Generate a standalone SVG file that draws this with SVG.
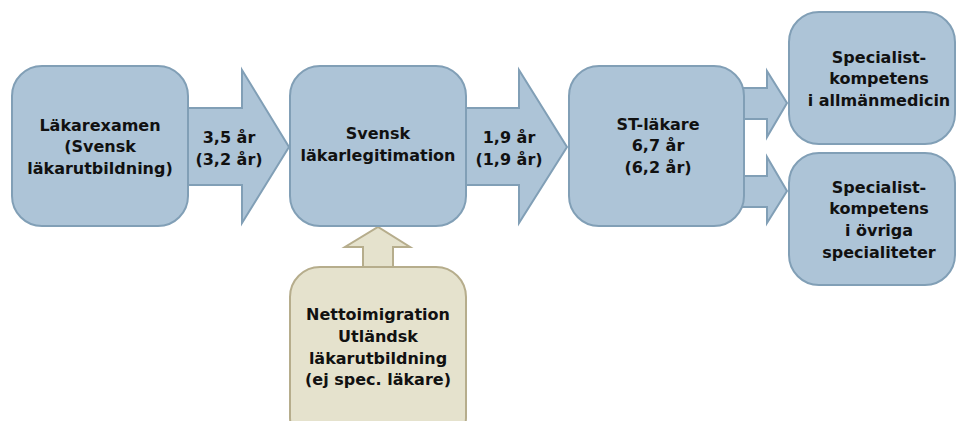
<svg xmlns="http://www.w3.org/2000/svg" width="957" height="421" viewBox="0 0 957 421">
<style>
.b{fill:#adc4d7;stroke:#819fb6;stroke-width:2}
.y{fill:#e5e2cd;stroke:#b6ad8c;stroke-width:2}
text{font-family:"DejaVu Sans","Liberation Sans",sans-serif;font-weight:bold;font-size:16px;fill:#111;text-anchor:middle}
</style>
<rect width="957" height="421" fill="#fff"/>
<g id="connectors">
<polygon class="b" points="180,108 242,108 242,70 289,147 242,223 242,185 180,185"/>
<polygon class="b" points="458,108 519,108 519,70 567,147 519,223 519,185 458,185"/>
<polygon class="b" points="736,88 767,88 767,71 787,103 767,137 767,119 736,119"/>
<polygon class="b" points="736,176 767,176 767,157 787,191 767,223 767,207 736,207"/>
<polygon class="y" points="363,275 363,247 345,247 378,227 410,247 393,247 393,275"/>
<text x="229" y="143">3,5 år</text>
<text x="229" y="165">(3,2 år)</text>
<text x="509" y="143">1,9 år</text>
<text x="509" y="165">(1,9 år)</text>
</g>
<g id="lakarexamen">
<rect class="b" x="12" y="66" width="176" height="160" rx="30"/>
<text x="100" y="131">Läkarexamen</text>
<text x="100" y="152">(Svensk</text>
<text x="100" y="174">läkarutbildning)</text>
</g>
<g id="legitimation">
<rect class="b" x="290" y="66" width="176" height="160" rx="30"/>
<text x="378" y="139">Svensk</text>
<text x="378" y="161">läkarlegitimation</text>
</g>
<g id="st">
<rect class="b" x="569" y="66" width="175" height="160" rx="30"/>
<text x="658" y="130">ST-läkare</text>
<text x="658" y="151">6,7 år</text>
<text x="658" y="173">(6,2 år)</text>
</g>
<g id="allman">
<rect class="b" x="789" y="12" width="166" height="132" rx="30"/>
<text x="879" y="63">Specialist-</text>
<text x="879" y="84">kompetens</text>
<text x="879" y="106">i allmänmedicin</text>
</g>
<g id="ovriga">
<rect class="b" x="789" y="153" width="166" height="132" rx="30"/>
<text x="879" y="193">Specialist-</text>
<text x="879" y="214">kompetens</text>
<text x="879" y="236">i övriga</text>
<text x="879" y="258">specialiteter</text>
</g>
<g id="immigration">
<rect class="y" x="290" y="267" width="176" height="180" rx="30"/>
<text x="378" y="320">Nettoimigration</text>
<text x="378" y="342">Utländsk</text>
<text x="378" y="364">läkarutbildning</text>
<text x="378" y="385">(ej spec. läkare)</text>
</g>
</svg>
